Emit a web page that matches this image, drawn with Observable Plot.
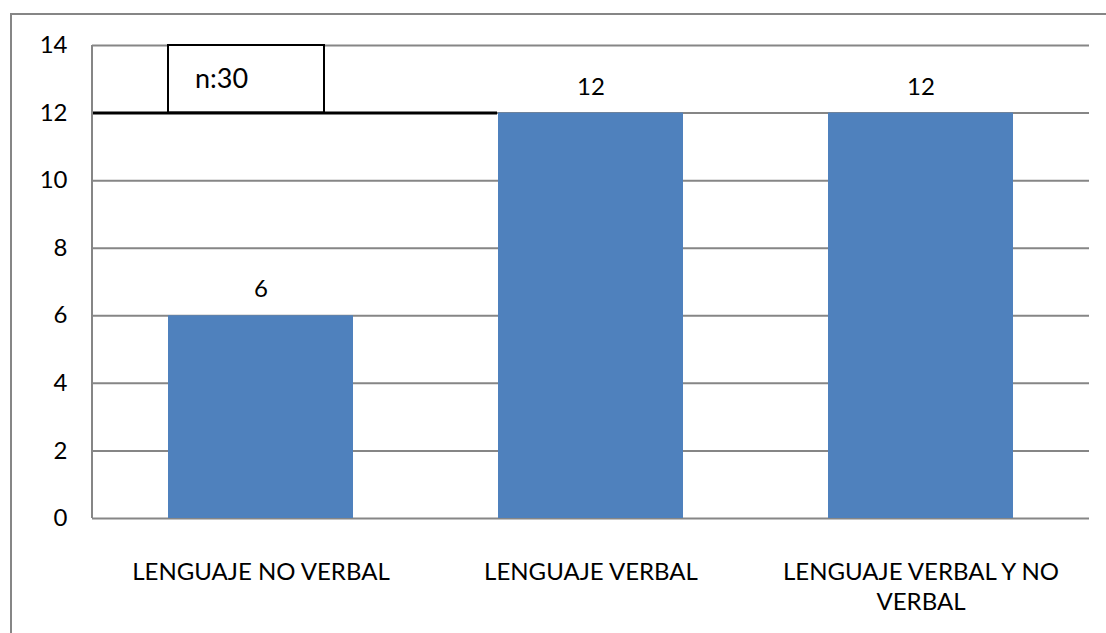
<!DOCTYPE html>
<html>
<head>
<meta charset="utf-8">
<script src="https://cdn.jsdelivr.net/npm/d3@7"></script>
<script src="https://cdn.jsdelivr.net/npm/@observablehq/plot@0.6"></script>
<style>
  html, body { margin: 0; padding: 0; background: #fff; }
  #chart { position: relative; width: 1106px; height: 633px; overflow: hidden; }
</style>
</head>
<body>
<div id="chart"></div>
<script>
const categories = ["LENGUAJE NO VERBAL", "LENGUAJE VERBAL", "LENGUAJE VERBAL Y NO VERBAL"];
const values = [6, 12, 12];
const tickLabels = {"LENGUAJE NO VERBAL": "LENGUAJE NO VERBAL", "LENGUAJE VERBAL": "LENGUAJE VERBAL", "LENGUAJE VERBAL Y NO VERBAL": "LENGUAJE VERBAL Y NO\nVERBAL"};
const yTicks = [0, 2, 4, 6, 8, 10, 12, 14];
const noteText = "n:30";
const noteRange = [12, 14];

const data = categories.map((c, i) => ({category: c, value: values[i]}));
const gray = "#868686";
const font = "Lato, 'Liberation Sans', sans-serif";

const plot = Plot.plot({
  width: 1106,
  height: 633,
  marginLeft: 92,
  marginRight: 17,
  marginTop: 45,
  marginBottom: 115,
  style: {fontFamily: font, fontSize: "24px", color: "#000", background: "transparent", overflow: "visible"},
  x: {domain: categories, paddingInner: 0.44, paddingOuter: 0.23, label: null},
  y: {domain: [0, 14], label: null},
  marks: [
    Plot.ruleY(yTicks, {stroke: gray, strokeWidth: 2, strokeOpacity: 1}),
    Plot.axisY({ticks: yTicks, tickSize: 0, tickPadding: 25, fontSize: 24, fill: "#000", label: null}),
    Plot.axisX({tickSize: 0, tickPadding: 40, fontSize: 24, lineHeight: 1.25, fill: "#000", tickFormat: d => tickLabels[d], label: null}),
    Plot.barY(data, {x: "category", y: "value", fill: "#4f81bd"}),
    Plot.barY([{category: categories[0]}], {x: "category", y1: noteRange[0], y2: noteRange[1], fill: "white", stroke: "black", strokeWidth: 2, insetRight: 29}),
    Plot.ruleY([noteRange[0]], {stroke: "black", strokeWidth: 3, insetRight: 592}),
    Plot.text([{category: categories[0], y: (noteRange[0] + noteRange[1]) / 2}], {x: "category", y: "y", text: () => noteText, textAnchor: "start", dx: -66, fontSize: 27, fill: "#000"}),
    Plot.text(data, {x: "category", y: "value", text: d => String(d.value), dy: -26, fontSize: 24, fill: "#000"})
  ]
});

// left axis line along the plot area
d3.select(plot).append("line")
  .attr("x1", 92).attr("x2", 92).attr("y1", 45).attr("y2", 518)
  .attr("stroke", gray).attr("stroke-width", 2);
// outer chart border
d3.select(plot).append("rect")
  .attr("x", 11).attr("y", 14).attr("width", 1200).attr("height", 800)
  .attr("fill", "none").attr("stroke", gray).attr("stroke-width", 2);

document.getElementById("chart").appendChild(plot);
</script>
</body>
</html>
